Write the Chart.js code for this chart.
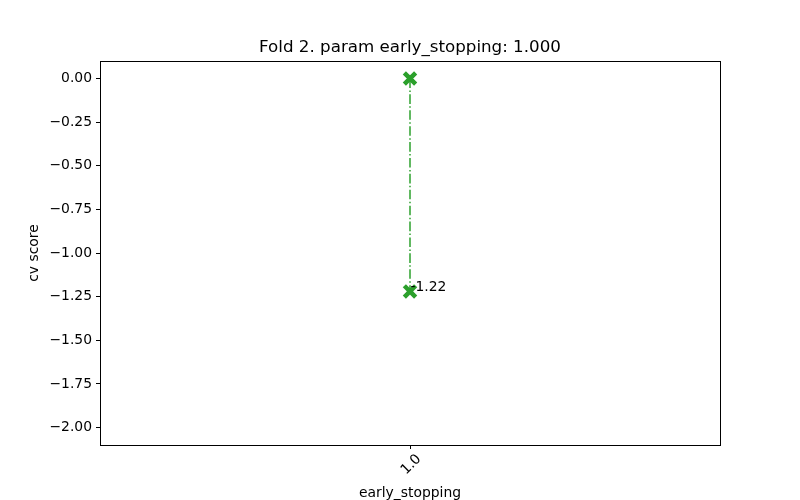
<!DOCTYPE html>
<html><head><meta charset="utf-8">
<script src="https://cdn.jsdelivr.net/npm/chart.js@4"></script>
<style>html,body{margin:0;padding:0;background:#fff}#wrap{width:800px;height:500px}</style>
</head><body><div id="wrap"><canvas id="c" width="800" height="500"></canvas></div>
<script>
const categories = ['1.0'];
const scores = [0, -1.22];
const annotations = ['-1.22'];
const yTickValues = [0, -0.25, -0.5, -0.75, -1.0, -1.25, -1.5, -1.75, -2.0];
const titleText = 'Fold 2. param early_stopping: 1.000';
const xTitle = 'early_stopping';
const yTitle = 'cv score';

const green = '#2ca02c';
const fontFam = '"DejaVu Sans", sans-serif';

const overlay = {
  id: 'overlay',
  afterDraw(chart) {
    const {ctx, chartArea: a, scales} = chart;
    ctx.save();
    ctx.strokeStyle = '#000'; ctx.lineWidth = 1;
    ctx.strokeRect(Math.round(a.left)+0.5, Math.round(a.top)+0.5, Math.round(a.right-a.left), Math.round(a.bottom-a.top));
    ctx.fillStyle = '#000';
    ctx.font = '16.7px ' + fontFam;
    ctx.textAlign = 'center'; ctx.textBaseline = 'alphabetic';
    ctx.fillText(titleText, (a.left+a.right)/2, 52);
    ctx.font = '13.9px ' + fontFam;
    const xp = scales.x.getPixelForValue(0);
    ctx.textAlign = 'left';
    ctx.fillText(annotations[0], xp + 0.5, scales.y.getPixelForValue(scores[1]));
    ctx.restore();
  }
};

new Chart(document.getElementById('c'), {
  type: 'line',
  data: {
    labels: categories,
    datasets: [
      {
        data: scores.map(v => ({x: categories[0], y: v})),
        borderColor: green,
        borderWidth: 1.5,
        borderDash: [9.6, 2.4, 1.5, 2.4],
        pointStyle: 'crossRot',
        pointRadius: 8,
        pointBorderWidth: 4.5,
        pointBorderColor: green,
        pointBackgroundColor: green,
        fill: false
      }
    ]
  },
  options: {
    responsive: false,
    animation: false,
    devicePixelRatio: 1,
    layout: {padding: {top: 61, right: 80, left: 26, bottom: 0}},
    plugins: {legend: {display: false}, tooltip: {enabled: false}},
    scales: {
      x: {
        type: 'category',
        offset: true,
        grid: {display: true, drawOnChartArea: false, drawTicks: true, tickLength: 4, color: '#000'},
        border: {display: true, color: '#000'},
        ticks: {color: '#000', font: {family: fontFam, size: 13.9}, minRotation: 45, maxRotation: 45, padding: 2, labelOffset: 9},
        title: {display: true, text: xTitle, color: '#000', font: {family: fontFam, size: 13.9}, padding: {top: 0, bottom: -2}},
        afterFit(s) { s.height = 55; }
      },
      y: {
        type: 'linear',
        min: -2.1, max: 0.1,
        afterBuildTicks(s) { s.ticks = yTickValues.map(v => ({value: v})); },
        grid: {display: true, drawOnChartArea: false, drawTicks: true, tickLength: 4, color: '#000'},
        border: {display: true, color: '#000'},
        ticks: {color: '#000', font: {family: fontFam, size: 13.9}, padding: 4,
          callback: v => v.toFixed(2).replace('-', '\u2212')},
        title: {display: true, text: yTitle, color: '#000', font: {family: fontFam, size: 13.9}, padding: {top: 0, bottom: 8}},
        afterFit(s) { s.width = 74; }
      }
    }
  },
  plugins: [overlay]
});
</script></body></html>
